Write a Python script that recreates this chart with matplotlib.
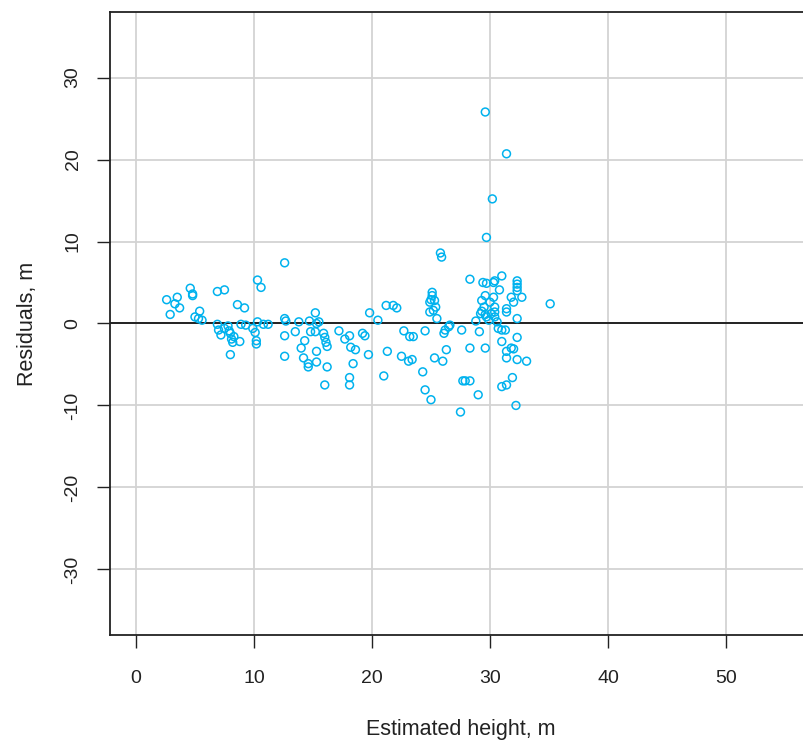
import numpy as np
import matplotlib
matplotlib.use("Agg")
import matplotlib.pyplot as plt

plt.rcParams['font.family'] = ['Liberation Sans', 'DejaVu Sans']

# estimated height (m) and residuals (m)
est_height = [
    2.6, 2.9, 3.3, 3.5, 3.7, 4.6, 4.8, 4.8, 5.0, 5.4, 5.6, 5.3, 6.9, 7.5, 6.9,
    7.0, 7.2, 7.5, 7.8, 8.0, 8.1, 8.2, 8.3, 8.0, 8.6, 9.2, 8.8, 8.9, 9.3, 7.9,
    9.9, 10.3, 10.6, 10.1, 10.2, 10.2, 10.3, 10.8, 11.2, 12.6, 12.6, 12.7, 12.6,
    12.6, 13.5, 13.8, 14.3, 14.0, 14.2, 14.6, 14.6, 14.7, 14.8, 15.2, 15.3, 15.2,
    15.3, 15.3, 15.5, 15.9, 16.0, 16.1, 16.2, 16.2, 16.0, 17.2, 17.7, 18.1, 18.2,
    18.6, 18.4, 18.1, 18.1, 19.8, 20.5, 21.2, 21.8, 22.1, 19.2, 19.4, 19.7, 21.0,
    21.3, 22.7, 23.2, 23.5, 22.5, 23.1, 23.4, 24.5, 24.3, 24.5, 25.0, 25.3, 26.0,
    26.3, 26.1, 26.2, 26.6, 27.6, 27.7, 27.5, 24.9, 25.1, 25.4, 25.5, 24.9, 25.1,
    25.0, 25.3, 25.2, 25.8, 25.9, 28.3, 29.7, 31.0, 29.7, 30.4, 30.8, 32.3, 32.3,
    32.3, 32.3, 32.7, 31.8, 32.0, 35.1, 29.6, 29.3, 29.5, 29.3, 29.6, 29.2, 30.0,
    30.3, 30.4, 30.4, 30.4, 31.4, 31.4, 32.3, 28.8, 29.9, 30.6, 29.1, 30.7, 31.0,
    31.3, 32.3, 31.0, 31.8, 32.0, 31.4, 28.3, 29.6, 31.4, 32.3, 33.1, 27.9, 28.3,
    31.0, 31.4, 31.9, 29.0, 32.2, 29.6, 31.4, 30.2, 29.4, 30.3, 29.7, 30.1, 26.5,
]
residuals = [
    2.9, 1.1, 2.4, 3.2, 1.9, 4.3, 3.6, 3.4, 0.8, 1.5, 0.4, 0.6, 3.9, 4.1, -0.1,
    -0.8, -1.4, -0.6, -0.3, -1.2, -1.9, -2.3, -1.6, -3.8, 2.3, 1.9, -2.2, -0.1, -0.2, -0.9,
    -0.6, 5.3, 4.4, -1.1, -2.1, -2.5, 0.2, -0.1, -0.1, 7.4, 0.6, 0.3, -1.5,
    -4.0, -1.0, 0.2, -2.1, -3.0, -4.2, -4.9, -5.3, 0.3, -1.0, 1.3, 0.0, -1.0,
    -3.4, -4.7, 0.2, -1.2, -1.7, -2.3, -2.8, -5.3, -7.5, -0.9, -1.9, -1.5, -2.9,
    -3.2, -4.9, -6.6, -7.5, 1.3, 0.4, 2.2, 2.2, 1.9, -1.2, -1.5, -3.8, -6.4,
    -3.4, -0.9, -1.6, -1.6, -4.0, -4.6, -4.4, -0.9, -5.9, -8.1, -9.3, -4.2, -4.6,
    -3.2, -1.2, -0.8, -0.2, -0.8, -7.0, -10.8, 2.6, 3.4, 2.0, 0.6, 1.4, 3.8,
    2.9, 2.8, 1.6, 8.6, 8.1, 5.4, 10.5, 5.8, 4.9, 5.2, 4.1, 5.2, 4.8,
    4.4, 4.0, 3.2, 3.2, 2.6, 2.4, 3.4, 2.8, 2.0, 1.5, 1.1, 1.2, 2.6,
    3.2, 2.0, 1.4, 0.8, 1.8, 1.4, 0.6, 0.3, 0.4, 0.2, -1.0, -0.6, -0.8,
    -0.8, -1.7, -2.2, -3.0, -3.1, -3.4, -3.0, -3.0, -4.2, -4.4, -4.6, -7.0, -7.0,
    -7.7, -7.5, -6.6, -8.7, -10.0, 25.8, 20.7, 15.2, 5.0, 5.0, 0.8, 1.2, -0.4,
]

x_ticks = [0, 10, 20, 30, 40, 50]
y_ticks = [-30, -20, -10, 0, 10, 20, 30]

fig = plt.figure(figsize=(8.04, 7.45), dpi=100)
ax = fig.add_axes([0.1368, 0.1477, 0.8719, 0.8362])

# grid like abline(v=..., h=..., col="lightgray")
for xv in x_ticks:
    ax.axvline(xv, color='#d3d3d3', lw=1.3, zorder=1)
for yv in y_ticks:
    ax.axhline(yv, color='#d3d3d3', lw=1.3, zorder=1)
ax.axhline(0, color='#222222', lw=1.4, zorder=2)

ax.scatter(est_height, residuals, s=32, facecolors='none',
           edgecolors='#00b2ee', linewidths=1.1, zorder=3)

ax.set_xlim(-2.2, 57.2)
ax.set_ylim(-38, 38)
ax.set_xticks(x_ticks)
ax.set_yticks(y_ticks)
ax.set_yticklabels([str(v) for v in y_ticks], rotation=90, va='center')
ax.tick_params(axis='both', direction='out', length=9.5, width=1.0,
               labelsize=14, color='#222222', labelcolor='#222222')
ax.tick_params(axis='x', pad=15.5)
ax.tick_params(axis='y', pad=11)

for side in ['left', 'bottom', 'top', 'right']:
    ax.spines[side].set_color('#222222')
    ax.spines[side].set_linewidth(1.3)

ax.set_xlabel('Estimated height, m', fontsize=15.5, color='#222222', labelpad=23)
ax.set_ylabel('Residuals, m', fontsize=15.5, color='#222222', labelpad=19)

fig.savefig('out.png', dpi=100)
